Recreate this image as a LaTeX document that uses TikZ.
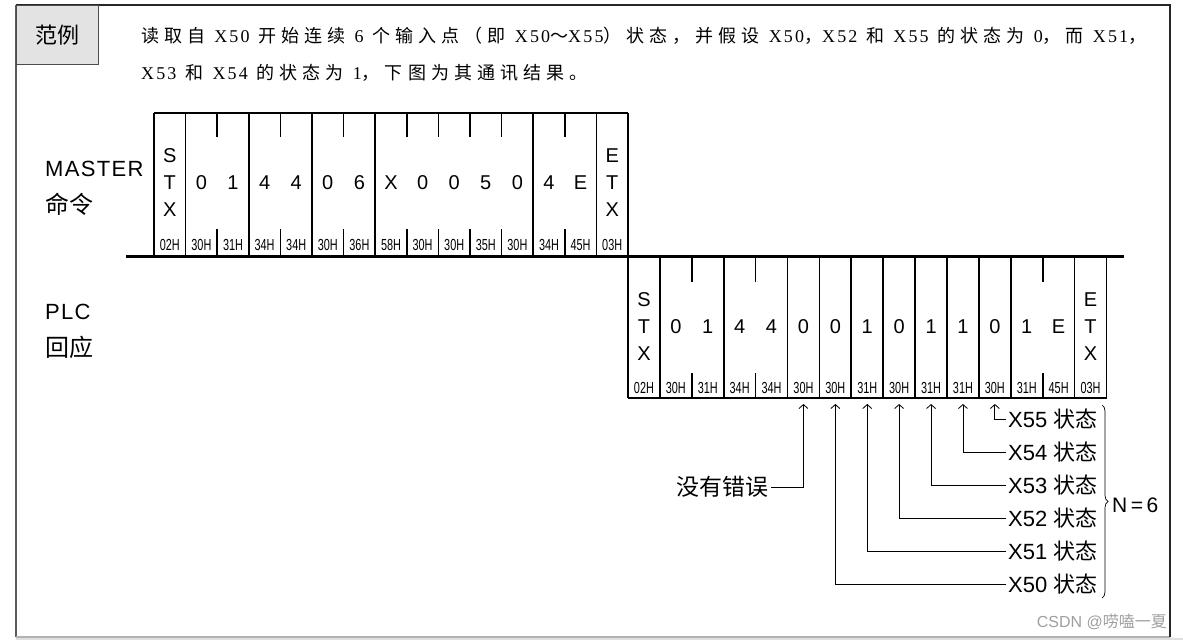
\documentclass[tikz,border=0pt]{standalone}
\usepackage{fontspec}
\setmainfont{Liberation Serif}
\setsansfont{Liberation Sans}
\newfontfamily\zh[LetterSpace=28]{Noto Sans CJK SC}
\newfontfamily\zhn{Noto Sans CJK SC}
\newfontfamily\lat[LetterSpace=12]{Liberation Serif}
\newfontfamily\sfw[LetterSpace=6]{Liberation Sans}
\usetikzlibrary{arrows.meta,decorations.pathreplacing}
\newcommand\hx[1]{\scalebox{0.68}[1]{#1}}
\newcommand\gp{\hspace{9pt}}
\newcommand\Z[1]{{\fontsize{18}{18}\selectfont\zh #1}}
\begin{document}
\begin{tikzpicture}[x=1pt,y=-1pt,
  grp/.style={line width=1.7pt},
  tk/.style={line width=1.7pt},
  ch/.style={font=\fontsize{20}{20}\selectfont\sffamily, inner sep=0pt},
  hexl/.style={font=\fontsize{16}{16}\selectfont\sffamily, inner sep=0pt},
  lbl/.style={font=\fontsize{22}{22}\selectfont\sffamily, anchor=west, inner sep=2pt},
  side/.style={font=\fontsize{22}{22}\selectfont\sfw, anchor=west, inner sep=0pt},
  sidezh/.style={font=\fontsize{24}{24}\selectfont\zhn, anchor=west, inner sep=0pt},
  arr/.style={line width=0.8pt, -{Straight Barb[length=4pt,width=9pt]}},
  hdr/.style={anchor=base west, inner sep=0pt, font=\fontsize{18}{18}\selectfont\lat},
]
\useasboundingbox (0,0) rectangle (1183,640);

% outer frame
\fill[gray!25] (16,637.5) rectangle (1183,640);
\draw[line width=1.5pt, gray!70!black] (16,5) -- (16,637);
\draw[line width=1.2pt, gray!60] (16,637) -- (1170,637);
\draw[line width=1.3pt, black!85] (16,5) -- (1170,5) -- (1170,637);
\node[draw=black!70, line width=1.2pt, fill=gray!22, minimum width=82pt, minimum height=59pt,
      anchor=north west, inner sep=0pt, font=\fontsize{22}{22}\selectfont\zhn] (fanli) at (16,5) {范例};

% header text
\node[hdr] (h1) at (141,42) {\Z{读取自}\gp X50\gp\Z{开始连续}\gp 6\gp\Z{个输入点（即}\gp X50\Z{～}X55\Z{）状态，并假设}\gp X50\Z{，}X52\gp\Z{和}\gp X55\gp\Z{的状态为}\gp 0\Z{，而}\gp X51\Z{，}};
\node[hdr] (h2) at (141,79) {X53\gp\Z{和}\gp X54\gp\Z{的状态为}\gp 1\Z{，下图为其通讯结果。}};

% side labels
\node[side] (master) at (45,169) {MASTER};
\node[sidezh] (mingling) at (45,204) {命令};
\node[side] (plc) at (45,312) {PLC};
\node[sidezh] (huiying) at (45,347) {回应};

% master frame
\draw[grp] (154,113) -- (628,113);
\foreach \i in {0,1,3,5,7,12,14,15}
  \draw[grp] ({154+31.6*\i},113) -- ({154+31.6*\i},256);
\foreach \i in {2,4,6,8,9,10,11,13} {
  \draw[tk] ({154+31.6*\i},113) -- ({154+31.6*\i},137);
  \draw[tk] ({154+31.6*\i},229) -- ({154+31.6*\i},256);
}
\foreach \c [count=\i from 1] in {0,1,4,4,0,6,X,0,0,5,0,4,E}
  \node[ch] (m\i) at ({154+31.6*(\i+0.5)},183) {\c};
\node[ch] (msS) at ({154+15.8},156) {S};
\node[ch] (msT) at ({154+15.8},183) {T};
\node[ch] (msX) at ({154+15.8},210) {X};
\node[ch] (meE) at ({154+31.6*14.5},156) {E};
\node[ch] (meT) at ({154+31.6*14.5},183) {T};
\node[ch] (meX) at ({154+31.6*14.5},210) {X};
\foreach \h [count=\i from 0] in {02H,30H,31H,34H,34H,30H,36H,58H,30H,30H,35H,30H,34H,45H,03H}
  \node[hexl] (mh\i) at ({154+31.6*(\i+0.5)},245) {\hx{\h}};

% thick separator
\draw[line width=3pt] (126,256) -- (1124,256);

% PLC frame
\draw[grp] (628,398) -- ({628+31.9*15},398);
\foreach \i in {0,1,3,5,6,7,8,9,10,11,12,14,15}
  \draw[grp] ({628+31.9*\i},256) -- ({628+31.9*\i},398);
\foreach \i in {2,4,13} {
  \draw[tk] ({628+31.9*\i},256) -- ({628+31.9*\i},282);
  \draw[tk] ({628+31.9*\i},373) -- ({628+31.9*\i},398);
}
\foreach \c [count=\i from 1] in {0,1,4,4,0,0,1,0,1,1,0,1,E}
  \node[ch] (p\i) at ({628+31.9*(\i+0.5)},327) {\c};
\node[ch] (psS) at ({628+15.95},300) {S};
\node[ch] (psT) at ({628+15.95},327) {T};
\node[ch] (psX) at ({628+15.95},354) {X};
\node[ch] (peE) at ({628+31.9*14.5},300) {E};
\node[ch] (peT) at ({628+31.9*14.5},327) {T};
\node[ch] (peX) at ({628+31.9*14.5},354) {X};
\foreach \h [count=\i from 0] in {02H,30H,31H,34H,34H,30H,30H,31H,30H,31H,31H,30H,31H,45H,03H}
  \node[hexl] (ph\i) at ({628+31.9*(\i+0.5)},388) {\hx{\h}};

% arrow tips
\foreach \i in {5,...,11}
  \coordinate (t\i) at ({628+31.9*(\i+0.5)},404);

% labels
\node[lbl] (x55) at (1006,419) {X55 {\zhn 状态}};
\node[lbl] (x54) at (1006,452) {X54 {\zhn 状态}};
\node[lbl] (x53) at (1006,485) {X53 {\zhn 状态}};
\node[lbl] (x52) at (1006,518) {X52 {\zhn 状态}};
\node[lbl] (x51) at (1006,551) {X51 {\zhn 状态}};
\node[lbl] (x50) at (1006,584) {X50 {\zhn 状态}};
\node[anchor=east, inner sep=2pt, font=\fontsize{23}{23}\selectfont\zhn] (noerr) at (771,487) {没有错误};

\draw[arr] (noerr.east) -| (t5);
\draw[arr] (x50.west) -| (t6);
\draw[arr] (x51.west) -| (t7);
\draw[arr] (x52.west) -| (t8);
\draw[arr] (x53.west) -| (t9);
\draw[arr] (x54.west) -| (t10);
\draw[arr] (x55.west) -| (t11);

% brace
\coordinate (bt) at (1102,405);
\coordinate (bb) at (1102,598);
\draw[line width=0.7pt, decorate, decoration={brace, amplitude=6pt}] (bt) -- (bb);
\node[font=\fontsize{21}{21}\selectfont\sffamily, anchor=west, inner sep=0pt] (n6) at (1112,505) {N\,=\,6};

% watermark
\node[anchor=east, inner sep=0pt, text=gray!75, font=\fontsize{16}{16}\selectfont\sffamily] (wm) at (1167,622) {CSDN @{\zhn 唠嗑一夏}};
\end{tikzpicture}
\end{document}
